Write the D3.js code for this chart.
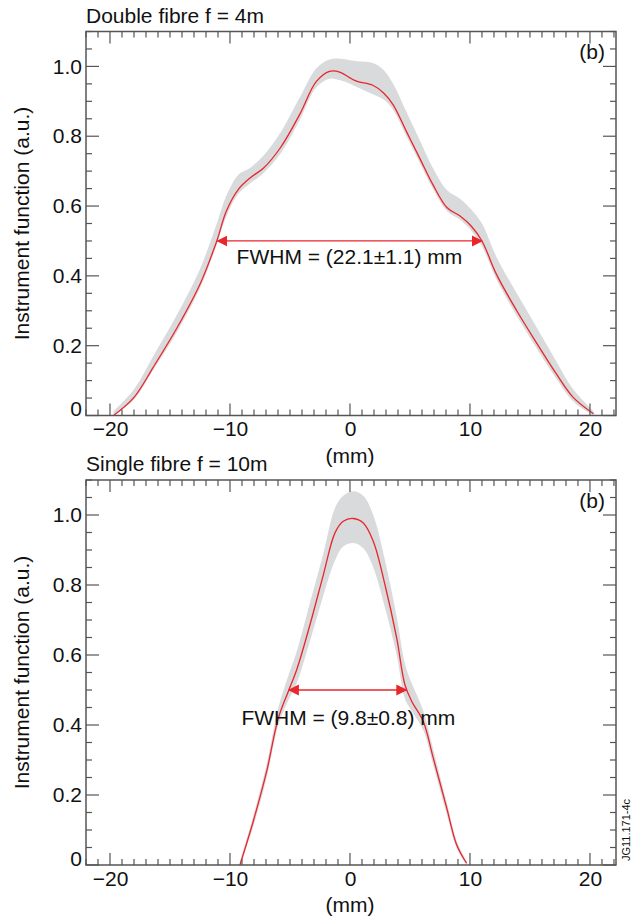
<!DOCTYPE html>
<html>
<head>
<meta charset="utf-8">
<script src="https://cdn.jsdelivr.net/npm/d3@7"></script>
<style>
  body { margin: 0; background: #fff; }
  svg { display: block; }
  text { font-family: "Liberation Sans", Arial, Helvetica, sans-serif; fill: #111; }
</style>
</head>
<body>
<script>
// --- data (mm, a.u.) ---
const doubleX  = [-19.7, -18.0, -16.4, -14.4, -12.5, -11.1, -10.3, -9.3, -8.3, -7.2, -5.8, -4.2, -2.8, -1.7, -0.8, 0, 0.6, 1.9, 2.8, 3.6, 4.7, 5.8, 6.9, 8.1, 9.2, 10.1, 11.0, 12.2, 13.9, 15.6, 17.2, 18.6, 20.3];
const doubleY  = [0, 0.052, 0.138, 0.252, 0.376, 0.50, 0.586, 0.648, 0.681, 0.709, 0.767, 0.862, 0.957, 0.986, 0.983, 0.967, 0.957, 0.946, 0.924, 0.890, 0.814, 0.738, 0.662, 0.595, 0.571, 0.543, 0.50, 0.405, 0.30, 0.205, 0.119, 0.052, 0.005];
const doubleHi = [0.012, 0.075, 0.17, 0.29, 0.42, 0.55, 0.63, 0.69, 0.71, 0.745, 0.81, 0.91, 0.995, 1.02, 1.022, 1.018, 1.015, 1.01, 0.99, 0.95, 0.87, 0.79, 0.71, 0.645, 0.62, 0.59, 0.55, 0.455, 0.35, 0.25, 0.155, 0.075, 0.012];
const doubleLo = [0, 0.045, 0.13, 0.24, 0.365, 0.49, 0.57, 0.635, 0.665, 0.695, 0.75, 0.845, 0.94, 0.965, 0.96, 0.95, 0.94, 0.92, 0.905, 0.875, 0.80, 0.725, 0.65, 0.585, 0.56, 0.53, 0.485, 0.39, 0.285, 0.19, 0.105, 0.04, 0];

const singleX  = [-9.17, -8.06, -6.94, -5.97, -5.14, -4.44, -3.33, -2.22, -1.25, -0.56, 0.28, 1.11, 1.94, 2.92, 3.89, 4.58, 5.14, 6.11, 6.94, 8.06, 8.89, 9.72];
const singleY  = [0, 0.125, 0.268, 0.42, 0.496, 0.558, 0.687, 0.829, 0.949, 0.982, 0.99, 0.977, 0.925, 0.80, 0.649, 0.515, 0.468, 0.41, 0.306, 0.163, 0.058, 0.005];
const singleHi = [0.01, 0.14, 0.29, 0.45, 0.54, 0.61, 0.75, 0.89, 1.02, 1.055, 1.068, 1.055, 1.00, 0.87, 0.71, 0.575, 0.52, 0.44, 0.33, 0.18, 0.07, 0.01];
const singleLo = [0, 0.11, 0.25, 0.40, 0.47, 0.52, 0.64, 0.77, 0.87, 0.91, 0.92, 0.905, 0.85, 0.735, 0.60, 0.475, 0.44, 0.385, 0.285, 0.145, 0.048, 0];

const xTicks = [-20, -10, 0, 10, 20];
const yTicks = [0, 0.2, 0.4, 0.6, 0.8, 1.0];
const titles = ["Double fibre f = 4m", "Single fibre f = 10m"];
const fwhmLabels = ["FWHM = (22.1\u00b11.1) mm", "FWHM = (9.8\u00b10.8) mm"];
const fwhmEnds = [[-11.05, 11.0], [-5.1, 4.7]];

const RED = "#e8262b";
const BAND = "#d9dadc";
const AXIS = "#555";

const svg = d3.select("body").append("svg")
  .attr("width", 632)
  .attr("height", 917);

const defs = svg.append("defs");
defs.append("marker")
  .attr("id", "head")
  .attr("viewBox", "0 0 12 12")
  .attr("refX", 11)
  .attr("refY", 6)
  .attr("markerWidth", 11)
  .attr("markerHeight", 12)
  .attr("markerUnits", "userSpaceOnUse")
  .attr("orient", "auto-start-reverse")
  .append("path")
  .attr("d", "M0,0 L12,6 L0,12 Z")
  .style("fill", RED);

const panels = [
  { top: 31.5, bottom: 415.5, xs: doubleX, ys: doubleY, hi: doubleHi, lo: doubleLo,
    textAt: [-9.45, 0.434] },
  { top: 480, bottom: 865, xs: singleX, ys: singleY, hi: singleHi, lo: singleLo,
    textAt: [-9.05, 0.40] }
];

panels.forEach((p, i) => drawPanel(p, i));

function drawPanel(p, i) {
  const x = d3.scaleLinear().domain([-22, 22.17]).range([86, 616]);
  const y = d3.scaleLinear().domain([0, 1.1]).range([p.bottom, p.top]);
  const g = svg.append("g");
  const pts = p.xs.map((v, k) => ({ x: v, y: p.ys[k], hi: p.hi[k], lo: p.lo[k] }));
  const curve = d3.curveCatmullRom.alpha(0.5);

  // uncertainty band
  const area = d3.area()
    .x(d => x(d.x))
    .y0(d => y(d.lo))
    .y1(d => y(d.hi))
    .curve(curve);
  g.append("path")
    .datum(pts)
    .attr("d", area)
    .style("fill", BAND);

  // instrument function
  const line = d3.line()
    .x(d => x(d.x))
    .y(d => y(d.y))
    .curve(curve);
  g.append("path")
    .datum(pts)
    .attr("d", line)
    .style("fill", "none")
    .style("stroke", RED)
    .style("stroke-width", 1.3);

  // FWHM double arrow
  const [a, b] = fwhmEnds[i];
  g.append("line")
    .attr("x1", x(a)).attr("x2", x(b))
    .attr("y1", y(0.5)).attr("y2", y(0.5))
    .style("stroke", RED)
    .style("stroke-width", 1.3)
    .attr("marker-start", "url(#head)")
    .attr("marker-end", "url(#head)");
  g.append("text")
    .attr("x", x(p.textAt[0]))
    .attr("y", y(p.textAt[1]))
    .style("font-size", "21px")
    .text(fwhmLabels[i]);

  // tick labels; all tick marks drawn inward below
  const xMinor = d3.range(-22, 23, 1);
  const yMinor = d3.range(0, 1.11, 0.05);
  const ax = g.append("g").attr("transform", `translate(0,${p.bottom})`)
    .call(d3.axisBottom(x).tickValues(xTicks).tickSize(0).tickPadding(6)
      .tickFormat(d => String(d).replace("-", "\u2212")));
  ax.select(".domain").remove();
  ax.selectAll("text").style("font-size", "21px").style("fill", "#111").attr("font-family", null);

  const yAx = g.append("g").attr("transform", "translate(86,0)")
    .call(d3.axisLeft(y).tickValues(yTicks).tickSize(0).tickPadding(4)
      .tickFormat(d => d === 0 ? "0" : d3.format(".1f")(d)));
  yAx.select(".domain").remove();
  yAx.selectAll("text").style("font-size", "21px").style("fill", "#111").attr("font-family", null);
  // "0" sits on the axis line instead of centred on it
  yAx.selectAll(".tick").filter(d => d === 0).select("text").attr("dy", "0");

  const ticks = g.append("g").style("stroke", AXIS).style("stroke-width", 1.2);
  xMinor.forEach(v => {
    const len = v % 10 === 0 ? 12 : 6;
    ticks.append("line").attr("x1", x(v)).attr("x2", x(v)).attr("y1", p.bottom).attr("y2", p.bottom - len);
    ticks.append("line").attr("x1", x(v)).attr("x2", x(v)).attr("y1", p.top).attr("y2", p.top + len);
  });
  yMinor.forEach(v => {
    const major = Math.abs(Math.round(v * 10) / 10 - v) < 1e-6 && Math.round(v * 10) % 2 === 0;
    const len = major ? 13 : 6;
    ticks.append("line").attr("x1", 86).attr("x2", 86 + len).attr("y1", y(v)).attr("y2", y(v));
    ticks.append("line").attr("x1", 616).attr("x2", 616 - len).attr("y1", y(v)).attr("y2", y(v));
  });

  g.append("rect")
    .attr("x", 86).attr("y", p.top)
    .attr("width", 616 - 86).attr("height", p.bottom - p.top)
    .style("fill", "none")
    .style("stroke", AXIS)
    .style("stroke-width", 1.5);

  g.append("text")
    .attr("x", 86).attr("y", p.top - 9)
    .style("font-size", "21px")
    .text(titles[i]);
  g.append("text")
    .attr("x", 605).attr("y", p.top + 27.5)
    .style("font-size", "21px")
    .style("text-anchor", "end")
    .text("(b)");
  g.append("text")
    .attr("x", x(0)).attr("y", p.bottom + 47)
    .style("font-size", "21px")
    .style("text-anchor", "middle")
    .text("(mm)");
  g.append("text")
    .attr("transform", `translate(29,${(p.top + p.bottom) / 2}) rotate(-90)`)
    .style("font-size", "21px")
    .style("text-anchor", "middle")
    .text("Instrument function (a.u.)");
}

svg.append("text")
  .attr("transform", "translate(630,830) rotate(-90)")
  .style("font-size", "11px")
  .style("text-anchor", "middle")
  .text("JG11.171-4c");
</script>
</body>
</html>
